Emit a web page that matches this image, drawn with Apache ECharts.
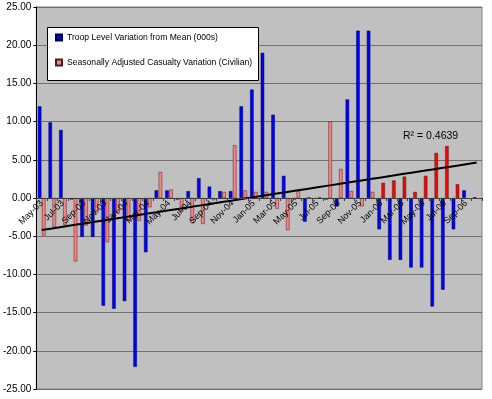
<!DOCTYPE html>
<html>
<head>
<meta charset="utf-8">
<script src="https://cdn.jsdelivr.net/npm/echarts@6/dist/echarts.min.js"></script>
<style>
  html, body { margin: 0; padding: 0; background: #fff; }
  #chart { width: 492px; height: 399px; }
</style>
</head>
<body>
<div id="chart"></div>
<script>
// categories (monthly)
var months = ['May-03','Jun-03','Jul-03','Aug-03','Sep-03','Oct-03','Nov-03','Dec-03',
  'Jan-04','Feb-04','Mar-04','Apr-04','May-04','Jun-04','Jul-04','Aug-04','Sep-04','Oct-04','Nov-04','Dec-04',
  'Jan-05','Feb-05','Mar-05','Apr-05','May-05','Jun-05','Jul-05','Aug-05','Sep-05','Oct-05','Nov-05','Dec-05',
  'Jan-06','Feb-06','Mar-06','Apr-06','May-06','Jun-06','Jul-06','Aug-06','Sep-06','Oct-06'];

// troop level variation from mean (000s)
var troop = [12.0, 9.9, 8.9, -0.2, -5.1, -5.1, -14.1, -14.5, -13.5, -22.1, -7.1, 1.0,
  1.0, -0.2, 0.9, 2.6, 1.5, 0.9, 0.9, 12.0, 14.2, 19.0, 10.9, 2.9,
  -0.2, -3.1, -0.1, -0.2, -1.1, 12.9, 21.9, 21.9, -4.1, -8.1, -8.1, -9.1,
  -9.1, -14.2, -12.0, -4.1, 1.0, 0.1];

// seasonally adjusted casualty variation (civilian)
var casualty = [-4.9, -3.8, -3.5, -8.3, -3.6, -1.9, -5.8, -2.0, -3.0, -3.0, -1.2, 3.4,
  1.1, -1.8, -3.3, -3.4, -0.3, 0.8, 6.9, 1.0, 0.8, 0.8, -1.4, -4.2,
  0.9, 0.1, 0.1, 10.0, 3.8, 0.9, -1.1, 0.8, 2.0, 2.3, 2.8, 0.8,
  2.9, 5.9, 6.8, 1.8, null, null];

// y axis ticks
var yTicks = [-25, -20, -15, -10, -5, 0, 5, 10, 15, 20, 25];

var brightFrom = 'Jan-06'; // casualty bars drawn in bright red from here on
var r2Text = 'R² = 0.4639';

var font = "'Liberation Sans', Arial, sans-serif";
var W = 492, H = 399;
var gridTop = 7, gridBottom = 10;

// linear trend of the casualty series
function trend(values, n) {
  var xs = [], ys = [];
  values.forEach(function (v, i) {
    if (v !== null) { xs.push(i); ys.push(v); }
  });
  var mx = xs.reduce(function (a, b) { return a + b; }, 0) / xs.length;
  var my = ys.reduce(function (a, b) { return a + b; }, 0) / ys.length;
  var sxy = 0, sxx = 0;
  for (var i = 0; i < xs.length; i++) {
    sxy += (xs[i] - mx) * (ys[i] - my);
    sxx += (xs[i] - mx) * (xs[i] - mx);
  }
  var slope = sxy / sxx, icpt = my - slope * mx;
  var out = [];
  for (var k = 0; k < n; k++) out.push(+(icpt + slope * k).toFixed(3));
  return out;
}

var brightIdx = months.indexOf(brightFrom);
var casualtyData = casualty.map(function (v, i) {
  if (i >= brightIdx && v !== null) {
    return { value: v, itemStyle: { color: '#FF0000' } };
  }
  return v;
});

// category axis sits on the zero line
var yMin = yTicks[0], yMax = yTicks[yTicks.length - 1];
var plotH = H - gridTop - gridBottom;
var zeroOffset = -plotH * (0 - yMin) / (yMax - yMin);

var chart = echarts.init(document.getElementById('chart'), null, { renderer: 'canvas' });

var option = {
  backgroundColor: '#ffffff',
  animation: false,
  textStyle: { fontFamily: font },
  grid: {
    left: 35, right: 10, top: gridTop, bottom: gridBottom,
    show: true,
    backgroundColor: '#C0C0C0',
    borderColor: '#808080',
    borderWidth: 1
  },
  legend: {
    orient: 'vertical',
    left: 55,
    top: 33,
    itemGap: 16,
    itemWidth: 6,
    itemHeight: 6,
    icon: 'rect',
    padding: 0,
    textStyle: { fontFamily: font, fontSize: 8.6, color: '#000' },
    data: ['Troop Level Variation from Mean (000s)', 'Seasonally Adjusted Casualty Variation (Civilian)']
  },
  graphic: [{
    type: 'rect',
    z: 3,
    shape: { x: 47.5, y: 27.5, width: 211, height: 53 },
    style: { fill: '#ffffff', stroke: '#000000', lineWidth: 1 }
  }, {
    type: 'text',
    z: 10,
    left: 403,
    top: 131,
    style: { text: r2Text, font: '10.5px ' + font, fill: '#000' }
  }],
  xAxis: {
    type: 'category',
    data: months,
    boundaryGap: true,
    position: 'bottom',
    offset: zeroOffset,
    z: 10,
    axisLine: { onZero: false, lineStyle: { color: '#404040', width: 1 } },
    axisTick: { show: true, interval: 0, length: 3, lineStyle: { color: '#404040' } },
    axisLabel: {
      interval: 1,
      rotate: 45,
      margin: 4,
      fontSize: 9,
      fontFamily: font,
      color: '#000'
    },
    splitLine: { show: false }
  },
  yAxis: {
    type: 'value',
    min: yMin,
    max: yMax,
    interval: 5,
    axisLine: { show: true, lineStyle: { color: '#000', width: 1 } },
    axisTick: { show: true, length: 3, lineStyle: { color: '#000' } },
    axisLabel: {
      margin: 5,
      fontSize: 10,
      fontFamily: font,
      color: '#000',
      formatter: function (v) { return v.toFixed(2); }
    },
    splitLine: { show: true, lineStyle: { color: '#707070', width: 1 } }
  },
  series: [{
    name: 'Troop Level Variation from Mean (000s)',
    type: 'bar',
    data: troop,
    barWidth: 3.5,
    barGap: '15%',
    itemStyle: { color: '#0000FF', borderColor: '#000040', borderWidth: 0.5 }
  }, {
    name: 'Seasonally Adjusted Casualty Variation (Civilian)',
    type: 'bar',
    data: casualtyData,
    barWidth: 3.5,
    itemStyle: { color: '#FF8080', borderColor: '#402020', borderWidth: 0.5 }
  }, {
    name: 'trend',
    type: 'line',
    data: trend(casualty, months.length),
    showSymbol: false,
    symbol: 'none',
    z: 5,
    lineStyle: { color: '#000', width: 2 }
  }]
};

chart.setOption(option);
</script>
</body>
</html>
